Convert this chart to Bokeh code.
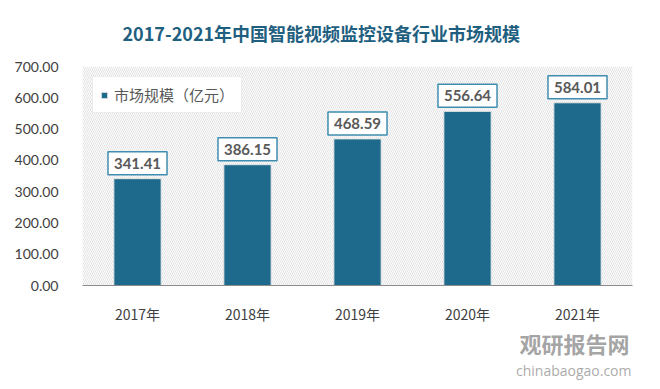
from bokeh.plotting import figure
from bokeh.models import (ColumnDataSource, Range1d, FactorRange, FixedTicker,
                          NumeralTickFormatter, Label, Legend, LegendItem,
                          BoxAnnotation, Title)
from bokeh.embed import file_html
from bokeh.resources import INLINE

# ---- data ----
years = ["2017年", "2018年", "2019年", "2020年", "2021年"]
market_size = [341.41, 386.15, 468.59, 556.64, 584.01]
y_ticks = [0, 100, 200, 300, 400, 500, 600, 700]
title_text = "2017-2021年中国智能视频监控设备行业市场规模"
series_name = "市场规模（亿元）"
watermark_cn = "观研报告网"
watermark_en = "chinabaogao.com"

BAR = "#1d6a8c"
CJK = "Noto Sans CJK SC"

src = ColumnDataSource(dict(year=years, value=market_size))

p = figure(width=652, height=381,
           x_range=FactorRange(*years, range_padding=0),
           y_range=Range1d(0, 700),
           output_backend="svg", toolbar_location=None,
           min_border_left=82, min_border_right=20,
           min_border_top=64, min_border_bottom=80)
p.outline_line_color = None
p.background_fill_color = "white"
p.border_fill_color = "white"
p.xgrid.grid_line_color = None
p.ygrid.grid_line_color = None

# title (above panel)
p.title.text = title_text
p.title.align = "left"
p.title.offset = 40
p.title.standoff = 38
p.title.vertical_align = "top"
p.title.text_font = CJK
p.title.text_font_style = "bold"
p.title.text_font_size = "18px"
p.title.text_color = "#1f5f80"

# hatched plot area
p.add_layout(BoxAnnotation(fill_color="white", fill_alpha=1,
                           hatch_pattern="\\", hatch_color="#dadada",
                           hatch_scale=4, hatch_weight=0.8,
                           line_color=None, level="underlay"))

bars = p.vbar(x="year", top="value", width=0.43, source=src,
              fill_color=BAR, line_color="#e6e6e6", line_width=1)

# axes
ya = p.yaxis[0]
ya.ticker = FixedTicker(ticks=y_ticks)
ya.formatter = NumeralTickFormatter(format="0.00")
ya.axis_line_color = None
ya.major_tick_line_color = None
ya.minor_tick_line_color = None
ya.major_label_text_font = "Lato"
ya.major_label_text_font_size = "14px"
ya.major_label_text_color = "#404040"
ya.major_label_standoff = 18

xa = p.xaxis[0]
xa.axis_line_color = "#8c8c8c"
xa.axis_line_width = 1
xa.major_tick_line_color = None
xa.minor_tick_line_color = None
xa.major_label_text_font = CJK
xa.major_label_text_font_size = "14px"
xa.major_label_text_color = "#404040"
xa.major_label_standoff = 12

# data labels (one Label per bar, at the category centre / bar top)
for i, v in enumerate(market_size):
    p.add_layout(Label(x=i + 0.5, y=v, text="%.2f" % v,
                       text_align="center", text_baseline="bottom", y_offset=4,
                       text_font="Lato", text_font_style="bold",
                       text_font_size="15px", text_color="#595959",
                       background_fill_color="white",
                       border_line_color="#3f8db0", border_line_width=1.5,
                       padding=6))

# legend (inside the plot area, top-left)
legend = Legend(items=[LegendItem(label=series_name, renderers=[bars])],
                location="top_left", orientation="horizontal",
                label_text_font=CJK, label_text_font_size="15px",
                label_text_color="#595959", glyph_width=8, glyph_height=8,
                label_height=15, label_standoff=6, padding=7,
                border_line_color="#d9d9d9", border_line_width=1,
                background_fill_color="white", margin=10)
p.add_layout(legend, "center")

# watermark (below panel, right aligned)
p.add_layout(Title(text=watermark_cn, align="right", offset=3,
                   vertical_align="top", standoff=0,
                   text_font=CJK, text_font_style="bold",
                   text_font_size="22px", text_color="#8c8c8c",
                   text_alpha=0.8), "below")
p.add_layout(Title(text=watermark_en, align="right", offset=1,
                   vertical_align="top", standoff=0,
                   text_font="Open Sans", text_font_style="normal",
                   text_font_size="14px", text_color="#9a9a9a",
                   text_alpha=0.85), "below")

open("out.html", "w").write(file_html(p, INLINE))
